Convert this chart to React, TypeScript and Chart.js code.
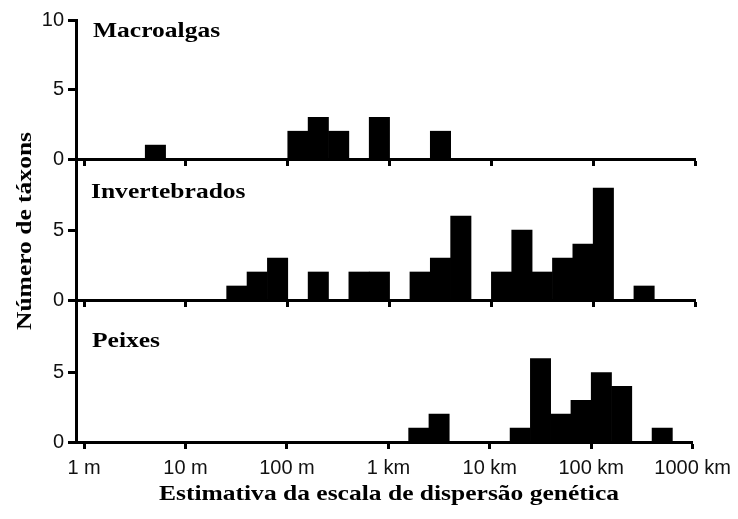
import React, { useEffect, useRef } from "react";
import { Chart, registerables } from "chart.js";

Chart.register(...registerables);

// Bin centres, in log10(metres); bins are 0.2 decade wide
const binCenters = [
  0.1, 0.3, 0.5, 0.7, 0.9, 1.1, 1.3, 1.5, 1.7, 1.9,
  2.1, 2.3, 2.5, 2.7, 2.9, 3.1, 3.3, 3.5, 3.7, 3.9,
  4.1, 4.3, 4.5, 4.7, 4.9, 5.1, 5.3, 5.5, 5.7, 5.9,
];

const macroalgas = [
  0, 0, 0, 1, 0, 0, 0, 0, 0, 0,
  2, 3, 2, 0, 3, 0, 0, 2, 0, 0,
  0, 0, 0, 0, 0, 0, 0, 0, 0, 0,
];
const invertebrados = [
  0, 0, 0, 0, 0, 0, 0, 1, 2, 3,
  0, 2, 0, 2, 2, 0, 2, 3, 6, 0,
  2, 5, 2, 3, 4, 8, 0, 1, 0, 0,
];
const peixes = [
  0, 0, 0, 0, 0, 0, 0, 0, 0, 0,
  0, 0, 0, 0, 0, 0, 1, 2, 0, 0,
  0, 1, 6, 2, 3, 5, 4, 0, 1, 0,
];

const xTickValues = [0, 1, 2, 3, 4, 5, 6];
const xTickLabels = ["1 m", "10 m", "100 m", "1 km", "10 km", "100 km", "1000 km"];
const yTicksTop = [0, 5, 10];
const yTicksOther = [0, 5];

const panelTitles = ["Macroalgas", "Invertebrados", "Peixes"];
const yTitle = "Número de táxons";
const xTitle = "Estimativa da escala de dispersão genética";

const SANS = "'Liberation Sans', Arial, sans-serif";
const SERIF = "'Liberation Serif', 'Times New Roman', serif";

type PanelProps = {
  values: number[];
  yTicks: number[];
  showXLabels: boolean;
  top: number;
  areaHeight: number;
  xAxisHeight: number;
};

const PAD_TOP = 14;

function Panel({ values, yTicks, showXLabels, top, areaHeight, xAxisHeight }: PanelProps) {
  const ref = useRef<HTMLCanvasElement | null>(null);
  const height = PAD_TOP + areaHeight + xAxisHeight;
  useEffect(() => {
    if (!ref.current) return;
    const chart = new Chart(ref.current, {
      type: "bar",
      data: {
        datasets: [
          {
            data: binCenters.map((x, i) => ({ x, y: values[i] })),
            backgroundColor: "#000",
            borderWidth: 0,
            barPercentage: 1,
            categoryPercentage: 1,
          } as any,
        ],
      },
      options: {
        animation: false,
        responsive: false,
        maintainAspectRatio: false,
        layout: { padding: { left: 0, right: 43, top: PAD_TOP, bottom: 0 } },
        plugins: { legend: { display: false }, tooltip: { enabled: false } },
        scales: {
          x: {
            type: "linear",
            min: -0.08,
            max: 6,
            offset: false,
            afterBuildTicks: (s: any) => {
              s.ticks = xTickValues.map((v) => ({ value: v }));
            },
            afterFit: (s: any) => {
              s.height = xAxisHeight;
            },
            grid: {
              offset: false,
              drawOnChartArea: false,
              drawTicks: true,
              tickLength: 7,
              tickWidth: 3,
              tickColor: "#000",
            },
            border: { display: true, color: "#000", width: 3 },
            ticks: {
              display: showXLabels,
              padding: 7,
              maxRotation: 0,
              autoSkip: false,
              color: "#111",
              font: { family: SANS, size: 20 },
              callback: (v: any) => xTickLabels[xTickValues.indexOf(Number(v))] ?? "",
            },
          } as any,
          y: {
            type: "linear",
            min: 0,
            max: 10,
            afterBuildTicks: (s: any) => {
              s.ticks = yTicks.map((v) => ({ value: v }));
            },
            afterFit: (s: any) => {
              s.width = 76;
            },
            grid: {
              drawOnChartArea: false,
              drawTicks: true,
              tickLength: 8,
              tickWidth: 3,
              tickColor: "#000",
            },
            border: { display: true, color: "#000", width: 3 },
            ticks: {
              padding: 4,
              color: "#111",
              font: { family: SANS, size: 20 },
            },
          } as any,
        },
      },
    });
    return () => chart.destroy();
  }, []);
  return (
    <canvas
      ref={ref}
      width={738}
      height={height}
      style={{ position: "absolute", left: 0, top: top - PAD_TOP, width: 738, height }}
    />
  );
}

const titleStyle: React.CSSProperties = {
  position: "absolute",
  fontFamily: SERIF,
  fontWeight: "bold",
  fontSize: 22,
  lineHeight: "22px",
  whiteSpace: "nowrap",
  color: "#000",
  transformOrigin: "left center",
  transform: "scaleX(1.16)",
};

export default function App() {
  return (
    <div
      style={{
        position: "absolute",
        left: 0,
        top: 0,
        width: 738,
        height: 519,
        background: "#fff",
        overflow: "hidden",
      }}
    >
      <Panel values={macroalgas} yTicks={yTicksTop} showXLabels={false} top={18} areaHeight={143} xAxisHeight={14} />
      <Panel values={invertebrados} yTicks={yTicksOther} showXLabels={false} top={158} areaHeight={144} xAxisHeight={14} />
      <Panel values={peixes} yTicks={yTicksOther} showXLabels={true} top={301} areaHeight={141} xAxisHeight={40} />

      <div style={{ ...titleStyle, left: 93, top: 19 }}>{panelTitles[0]}</div>
      <div style={{ ...titleStyle, left: 91, top: 180 }}>{panelTitles[1]}</div>
      <div style={{ ...titleStyle, left: 92, top: 329 }}>{panelTitles[2]}</div>

      <div
        style={{
          ...titleStyle,
          left: 24,
          top: 231,
          transformOrigin: "center center",
          transform: "translate(-50%, -50%) rotate(-90deg) scaleX(1.16)",
        }}
      >
        {yTitle}
      </div>
      <div
        style={{
          ...titleStyle,
          left: 389,
          top: 482,
          transformOrigin: "center center",
          transform: "translateX(-50%) scaleX(1.16)",
        }}
      >
        {xTitle}
      </div>
    </div>
  );
}
